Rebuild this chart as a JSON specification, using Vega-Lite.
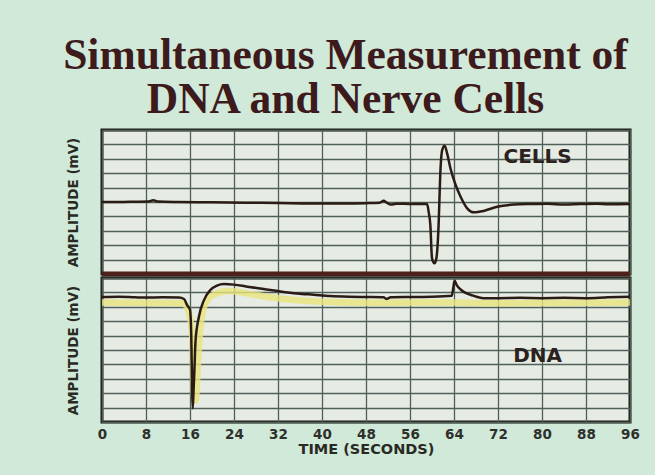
{
  "$schema": "https://vega.github.io/schema/vega-lite/v6.json",
  "background": "#d0e9d8",
  "padding": {"left": 63, "top": 34, "right": 21, "bottom": 30},
  "spacing": -10,
  "title": {
    "text": ["Simultaneous Measurement of", "DNA and Nerve Cells"],
    "font": "Liberation Serif",
    "fontSize": 43.5,
    "fontWeight": "bold",
    "color": "#3d1a1c",
    "lineHeight": 44,
    "anchor": "middle",
    "dx": -9,
    "offset": 6
  },
  "config": {
    "view": {"stroke": "#1c1c16", "strokeWidth": 3, "fill": "#e6ebe4"},
    "axis": {
      "gridColor": "#4f605a",
      "gridWidth": 1.3,
      "gridOpacity": 1,
      "domain": false,
      "ticks": false,
      "labelFont": "DejaVu Sans",
      "labelFontWeight": "bold",
      "labelFontSize": 13.5,
      "labelColor": "#2f302c",
      "titleFont": "DejaVu Sans",
      "titleFontWeight": "bold",
      "titleFontSize": 13.5,
      "titleColor": "#2a2a24"
    }
  },
  "datasets": {
    "cells": [
      {"t": 0, "v": 5.0}, {"t": 3, "v": 5.0}, {"t": 6, "v": 5.02}, {"t": 8.5, "v": 5.04},
      {"t": 9.3, "v": 5.12}, {"t": 10.2, "v": 5.03}, {"t": 14, "v": 5.0}, {"t": 20, "v": 4.98},
      {"t": 26, "v": 4.95}, {"t": 32, "v": 4.93}, {"t": 38, "v": 4.9}, {"t": 44, "v": 4.9},
      {"t": 48, "v": 4.92}, {"t": 50.5, "v": 4.95}, {"t": 51.2, "v": 5.08}, {"t": 51.8, "v": 4.95},
      {"t": 52.5, "v": 4.82}, {"t": 53.5, "v": 4.88}, {"t": 56, "v": 4.86}, {"t": 59.1, "v": 4.86},
      {"t": 59.4, "v": 4.3}, {"t": 59.7, "v": 3.4}, {"t": 60.0, "v": 1.1}, {"t": 60.45, "v": 0.74},
      {"t": 60.8, "v": 1.1}, {"t": 61.2, "v": 3.4}, {"t": 61.5, "v": 6.9}, {"t": 61.85, "v": 8.6},
      {"t": 62.3, "v": 8.9}, {"t": 62.75, "v": 8.38}, {"t": 63.35, "v": 7.34}, {"t": 64.3, "v": 6.18},
      {"t": 65.2, "v": 5.37}, {"t": 66.4, "v": 4.56}, {"t": 67.6, "v": 4.28}, {"t": 69.4, "v": 4.38},
      {"t": 71.85, "v": 4.67}, {"t": 74.9, "v": 4.82}, {"t": 78, "v": 4.86}, {"t": 81, "v": 4.88},
      {"t": 84, "v": 4.82}, {"t": 87, "v": 4.86}, {"t": 90, "v": 4.88}, {"t": 92, "v": 4.84},
      {"t": 96, "v": 4.86}
    ],
    "dna": [
      {"t": 0, "v": 8.68}, {"t": 3, "v": 8.7}, {"t": 6, "v": 8.66}, {"t": 8, "v": 8.64},
      {"t": 11, "v": 8.66}, {"t": 14, "v": 8.64}, {"t": 14.9, "v": 8.54}, {"t": 15.5, "v": 8.1},
      {"t": 16.0, "v": 7.8}, {"t": 16.25, "v": 5.6}, {"t": 16.4, "v": 2.0}, {"t": 16.5, "v": 0.95},
      {"t": 16.65, "v": 2.2}, {"t": 16.8, "v": 3.6}, {"t": 17.0, "v": 5.6}, {"t": 17.6, "v": 7.27},
      {"t": 18.5, "v": 8.43}, {"t": 19.7, "v": 9.17}, {"t": 20.9, "v": 9.47}, {"t": 22.15, "v": 9.58},
      {"t": 24.0, "v": 9.54}, {"t": 26.4, "v": 9.4}, {"t": 29.4, "v": 9.24}, {"t": 32.45, "v": 9.07},
      {"t": 35.5, "v": 8.93}, {"t": 38.5, "v": 8.84}, {"t": 41.5, "v": 8.75}, {"t": 45, "v": 8.7},
      {"t": 48, "v": 8.68}, {"t": 51.2, "v": 8.66}, {"t": 51.7, "v": 8.55}, {"t": 52.5, "v": 8.66},
      {"t": 56, "v": 8.68}, {"t": 60, "v": 8.7}, {"t": 63.6, "v": 8.77}, {"t": 63.9, "v": 9.4},
      {"t": 64.1, "v": 9.81}, {"t": 64.5, "v": 9.5}, {"t": 65.2, "v": 9.2}, {"t": 66, "v": 8.98},
      {"t": 67, "v": 8.84}, {"t": 69.4, "v": 8.6}, {"t": 72, "v": 8.6}, {"t": 76, "v": 8.62},
      {"t": 80, "v": 8.6}, {"t": 84, "v": 8.62}, {"t": 88, "v": 8.6}, {"t": 92, "v": 8.66},
      {"t": 96, "v": 8.7}
    ],
    "dnahl": [
      {"t": 0, "v": 8.3}, {"t": 14.8, "v": 8.25}, {"t": 15.8, "v": 7.6}, {"t": 16.4, "v": 6.0},
      {"t": 16.75, "v": 1.8}, {"t": 17.05, "v": 1.5}, {"t": 17.5, "v": 4.5}, {"t": 18.1, "v": 7.2},
      {"t": 19.2, "v": 8.5}, {"t": 21, "v": 8.95}, {"t": 23, "v": 9.1}, {"t": 26, "v": 8.95},
      {"t": 30, "v": 8.7}, {"t": 34, "v": 8.5}, {"t": 40, "v": 8.35}, {"t": 50, "v": 8.28},
      {"t": 64, "v": 8.3}, {"t": 70, "v": 8.25}, {"t": 96, "v": 8.3}
    ],
    "toplabel": [{"t": 79.2, "v": 8.1, "label": "CELLS"}],
    "botlabel": [{"t": 79.2, "v": 4.55, "label": "DNA"}],
    "sep": [{"v": 0}]
  },
  "vconcat": [
    {
      "width": 528,
      "height": 144,
      "encoding": {
        "x": {"field": "t", "type": "quantitative",
          "scale": {"domain": [0, 96], "nice": false, "zero": false},
          "axis": {"orient": "top", "values": [0, 8, 16, 24, 32, 40, 48, 56, 64, 72, 80, 88, 96], "labels": false, "title": null, "grid": true}},
        "y": {"field": "v", "type": "quantitative",
          "scale": {"domain": [0, 10], "nice": false},
          "axis": {"values": [0, 1, 2, 3, 4, 5, 6, 7, 8, 9, 10], "labels": false, "title": "AMPLITUDE (mV)", "titlePadding": 22, "grid": true}}
      },
      "layer": [
        {
          "data": {"name": "cells"},
          "mark": {"type": "line", "color": "#2a1c14", "strokeWidth": 2.5, "interpolate": "monotone"}
        },
        {
          "data": {"name": "toplabel"},
          "mark": {"type": "text", "font": "DejaVu Sans", "fontWeight": "bold", "fontSize": 20, "color": "#2b2220"},
          "encoding": {"text": {"field": "label"}}
        },
        {
          "data": {"name": "sep"},
          "mark": {"type": "rule", "color": "#4d2119", "strokeWidth": 5},
          "encoding": {"x": null}
        }
      ]
    },
    {
      "width": 528,
      "height": 144,
      "encoding": {
        "x": {"field": "t", "type": "quantitative",
          "scale": {"domain": [0, 96], "nice": false, "zero": false},
          "axis": {"values": [0, 8, 16, 24, 32, 40, 48, 56, 64, 72, 80, 88, 96], "labelFlush": false, "labelPadding": 5, "title": "TIME (SECONDS)", "titleFontSize": 14.5, "titlePadding": 2, "grid": true}},
        "y": {"field": "v", "type": "quantitative",
          "scale": {"domain": [0, 10], "nice": false},
          "axis": {"values": [0, 1, 2, 3, 4, 5, 6, 7, 8, 9, 10], "labels": false, "title": "AMPLITUDE (mV)", "titlePadding": 22, "grid": true}}
      },
      "layer": [
        {
          "data": {"name": "dnahl"},
          "mark": {"type": "line", "color": "#e9e57a", "strokeWidth": 6.5, "opacity": 0.8, "interpolate": "monotone"}
        },
        {
          "data": {"name": "dna"},
          "mark": {"type": "line", "color": "#2a1c14", "strokeWidth": 2.5, "interpolate": "monotone"}
        },
        {
          "data": {"name": "botlabel"},
          "mark": {"type": "text", "font": "DejaVu Sans", "fontWeight": "bold", "fontSize": 20, "color": "#2b2220"},
          "encoding": {"text": {"field": "label"}}
        }
      ]
    }
  ]
}
